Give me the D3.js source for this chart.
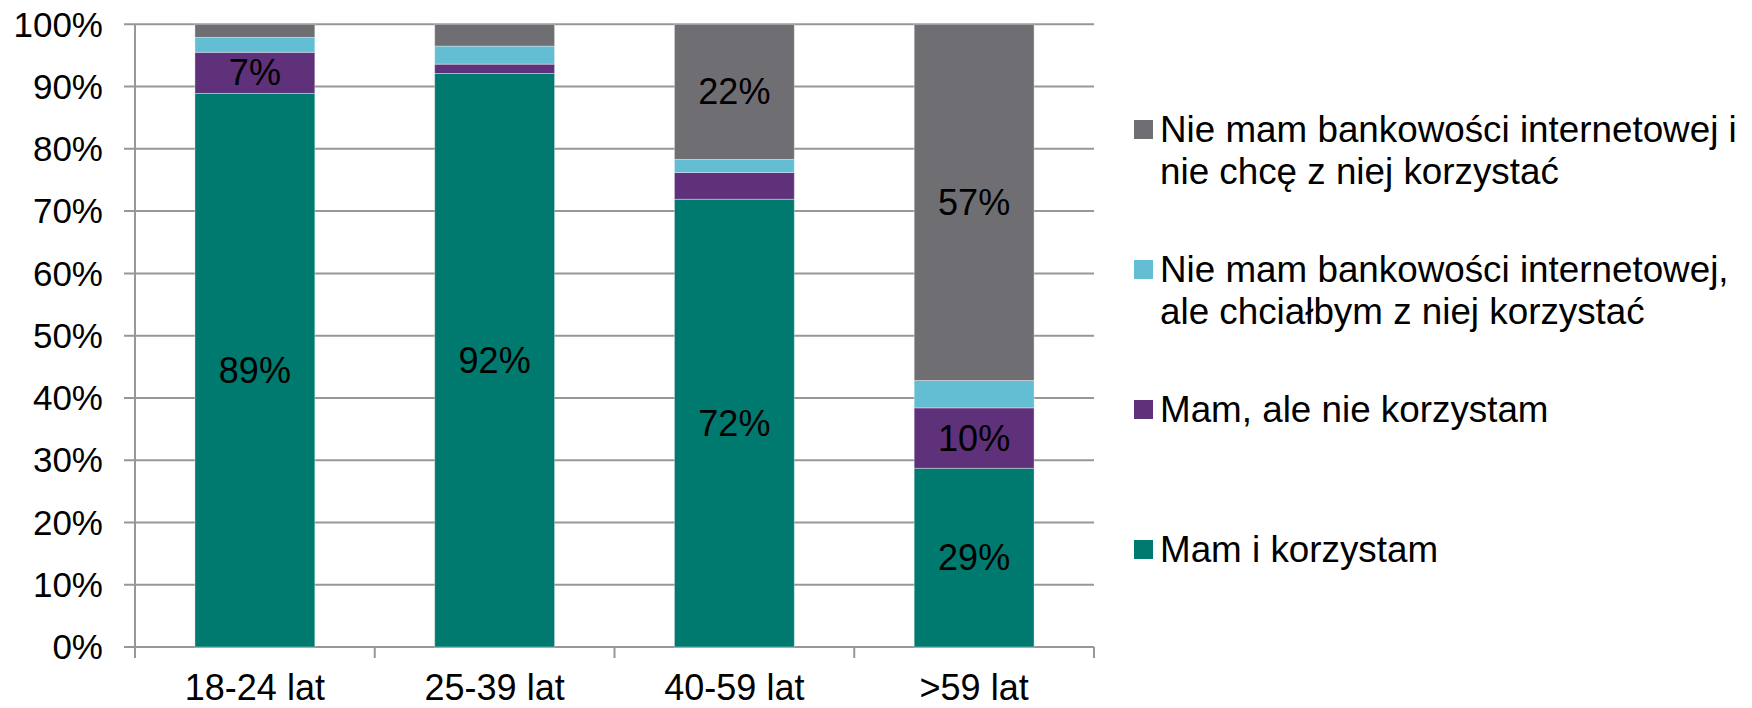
<!DOCTYPE html>
<html>
<head>
<meta charset="utf-8">
<script src="https://cdn.jsdelivr.net/npm/d3@7/dist/d3.min.js"></script>
<style>
  html, body { margin: 0; padding: 0; background: #ffffff; }
  svg { display: block; font-family: "Liberation Sans", Arial, sans-serif; }
</style>
</head>
<body>
<svg id="chart" width="1752" height="708"></svg>
<script>
// ---- data ----
const categories = ["18-24 lat", "25-39 lat", "40-59 lat", ">59 lat"];
const seriesNames = [
  "Mam i korzystam",
  "Mam, ale nie korzystam",
  "Nie mam bankowości internetowej, ale chciałbym z niej korzystać",
  "Nie mam bankowości internetowej i nie chcę z niej korzystać"
];
const mamIKorzystam = [88.9, 92.1, 71.9, 28.7];
const mamAleNieKorzystam = [6.6, 1.5, 4.3, 9.7];
const nieMamAleChcialbym = [2.4, 2.9, 2.1, 4.4];
const nieMamINieChce = [2.1, 3.5, 21.7, 57.2];
const yTicks = [0, 10, 20, 30, 40, 50, 60, 70, 80, 90, 100];
const legendLines = [
  ["Nie mam bankowości internetowej i", "nie chcę z niej korzystać"],
  ["Nie mam bankowości internetowej,", "ale chciałbym z niej korzystać"],
  ["Mam, ale nie korzystam"],
  ["Mam i korzystam"]
];

// ---- styles ----
const colors = ["#00796E", "#5E317A", "#63BDD3", "#6F6E73"];
const legendOrder = [3, 2, 1, 0];
const fontSize = 36;

const svg = d3.select("#chart");
const plot = { left: 135, right: 1094, top: 24.3, bottom: 647 };

const x = d3.scaleBand().domain(categories)
  .range([plot.left, plot.right]).paddingInner(0.5).paddingOuter(0.25);
const y = d3.scaleLinear().domain([0, 100]).range([plot.bottom, plot.top]);

// gridlines + y ticks
const gridColor = "#979797";
svg.append("g").selectAll("line").data(yTicks).join("line")
  .attr("x1", plot.left - 11).attr("x2", plot.right)
  .attr("y1", d => y(d)).attr("y2", d => y(d))
  .attr("stroke", gridColor).attr("stroke-width", 2);

// y axis line
svg.append("line")
  .attr("x1", plot.left).attr("x2", plot.left)
  .attr("y1", y(100)).attr("y2", plot.bottom + 11)
  .attr("stroke", gridColor).attr("stroke-width", 2);

// y labels
svg.append("g").selectAll("text").data(yTicks).join("text")
  .attr("x", 103).attr("y", d => y(d)).attr("dy", "0.35em")
  .attr("text-anchor", "end").attr("font-size", 35).attr("fill", "#000")
  .text(d => d + "%");

// x ticks at band boundaries
const step = x.step();
const boundaries = categories.map((c, i) => plot.left + step * (i + 1));
svg.append("g").selectAll("line").data(boundaries).join("line")
  .attr("x1", d => d).attr("x2", d => d)
  .attr("y1", plot.bottom).attr("y2", plot.bottom + 11)
  .attr("stroke", gridColor).attr("stroke-width", 2);

// stack
const seriesValues = [mamIKorzystam, mamAleNieKorzystam, nieMamAleChcialbym, nieMamINieChce];
const rows = categories.map((c, i) => {
  const r = { cat: c };
  seriesValues.forEach((s, k) => r["s" + k] = s[i]);
  return r;
});
const stack = d3.stack().keys(seriesValues.map((s, k) => "s" + k));
const stacked = stack(rows);

const groups = svg.append("g").selectAll("g").data(stacked).join("g")
  .attr("fill", (d, i) => colors[i]);
groups.selectAll("rect").data(d => d).join("rect")
  .attr("x", d => x(d.data.cat))
  .attr("width", x.bandwidth())
  .attr("y", d => y(d[1]))
  .attr("height", d => y(d[0]) - y(d[1]))
  .attr("stroke", "rgba(255,255,255,0.35)").attr("stroke-width", 1);

// data labels
stacked.forEach((layer, k) => {
  svg.append("g").selectAll("text").data(layer.filter(d => d[1] - d[0] >= 5)).join("text")
    .attr("x", d => x(d.data.cat) + x.bandwidth() / 2)
    .attr("y", d => (y(d[0]) + y(d[1])) / 2)
    .attr("dy", "0.35em").attr("text-anchor", "middle")
    .attr("font-size", fontSize).attr("fill", "#000")
    .text(d => Math.round(d[1] - d[0]) + "%");
});

// x labels
svg.append("g").selectAll("text").data(categories).join("text")
  .attr("x", d => x(d) + x.bandwidth() / 2).attr("y", 700)
  .attr("text-anchor", "middle").attr("font-size", fontSize).attr("fill", "#000")
  .text(d => d);

// legend
const legend = svg.append("g");
legendOrder.forEach((k, i) => {
  const top = 120 + i * 140;
  legend.append("rect").attr("x", 1134).attr("y", top).attr("width", 19).attr("height", 19)
    .attr("fill", colors[k]);
  legendLines[i].forEach((line, j) => {
    legend.append("text").attr("x", 1160).attr("y", top + 22 + j * 41.5)
      .attr("font-size", 36.8).attr("fill", "#000").text(line);
  });
});
</script>
</body>
</html>
